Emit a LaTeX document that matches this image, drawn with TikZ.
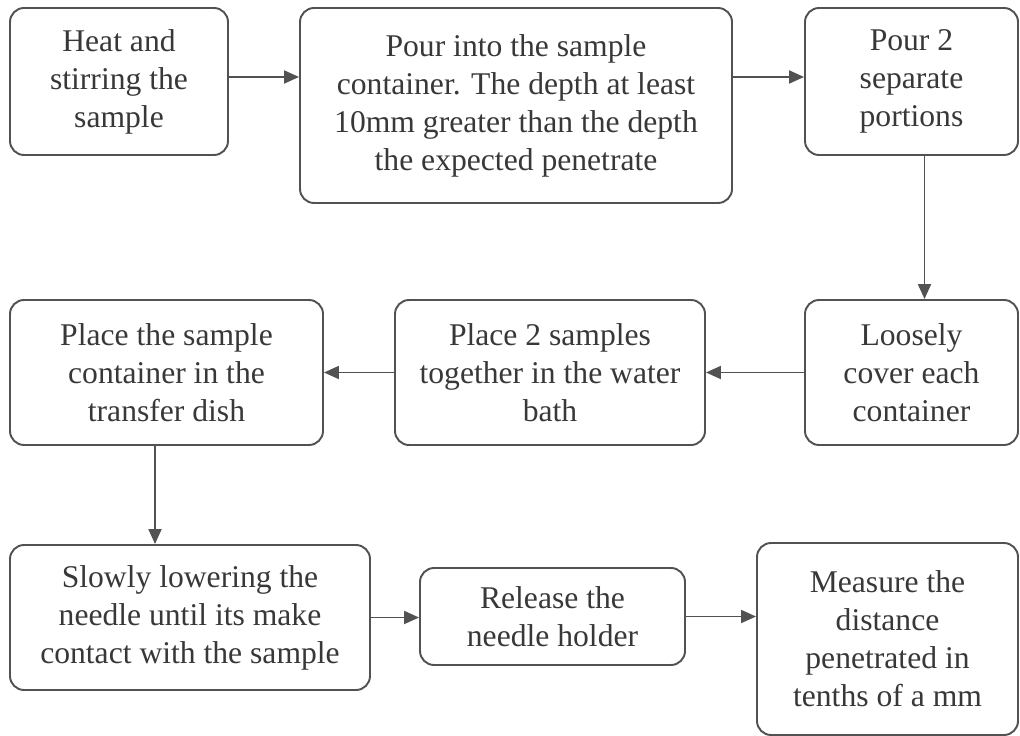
\documentclass[tikz,border=0pt]{standalone}
\usepackage{fontspec}
\setmainfont{Liberation Serif}
\usetikzlibrary{arrows.meta}
\begin{document}
\begin{tikzpicture}[>={Triangle[length=3mm,width=2.6mm]}, x=0.02cm, y=-0.02cm,
    stepbox/.style={draw=black!68, line width=1.1pt, rounded corners=8pt,
      align=center, text=black!78, inner sep=0pt,
      font=\fontsize{18}{21.6}\selectfont},
    flow/.style={->, draw=black!68, line width=1.1pt}]
    \useasboundingbox (0,0) rectangle (1020,736);
    \node (heat) [stepbox, minimum width=218*0.02cm, minimum height=147*0.02cm]
      at (119,81.5) {Heat and\\stirring the\\sample};
    \node (pour) [stepbox, minimum width=432*0.02cm, minimum height=195*0.02cm]
      at (516,105.5) {Pour into the sample\\container. The depth at least\\10mm greater than the depth\\the expected penetrate};
    \node (portions) [stepbox, minimum width=213*0.02cm, minimum height=147*0.02cm]
      at (911.5,81.5) {Pour 2\\separate\\portions};
    \node (cover) [stepbox, minimum width=213*0.02cm, minimum height=145*0.02cm]
      at (911.5,372.5) {Loosely\\cover each\\container};
    \node (samples) [stepbox, minimum width=310*0.02cm, minimum height=145*0.02cm]
      at (550,372.5) {Place 2 samples\\together in the water\\bath};
    \node (place) [stepbox, minimum width=313*0.02cm, minimum height=145*0.02cm]
      at (166.5,372.5) {Place the sample\\container in the\\transfer dish};
    \node (lower) [stepbox, minimum width=360*0.02cm, minimum height=145*0.02cm]
      at (190,617.5) {Slowly lowering the\\needle until its make\\contact with the sample};
    \node (release) [stepbox, minimum width=265*0.02cm, minimum height=97*0.02cm]
      at (552.5,616.5) {Release the\\needle holder};
    \node (measure) [stepbox, minimum width=261*0.02cm, minimum height=192*0.02cm]
      at (887.5,639) {Measure the\\distance\\penetrated in\\tenths of a mm};
    % arrows between the steps
    \coordinate (a1) at ([yshift=4.5*0.02cm]heat.east);
    \draw[flow] (a1) -- (a1 -| pour.west);
    \draw[flow] (a1 -| pour.east) -- (a1 -| portions.west);
    \draw[flow] ([xshift=13*0.02cm]portions.south) -- ([xshift=13*0.02cm]cover.north);
    \draw[flow] (cover.west) -- (samples.east);
    \draw[flow] (samples.west) -- (place.east);
    \coordinate (a2) at ([xshift=-11.5*0.02cm]place.south);
    \draw[flow] (a2) -- (a2 |- lower.north);
    \draw[flow] (lower.east) -- (lower.east -| release.west);
    \draw[flow] (release.east) -- (release.east -| measure.west);
  \end{tikzpicture}
\end{document}
